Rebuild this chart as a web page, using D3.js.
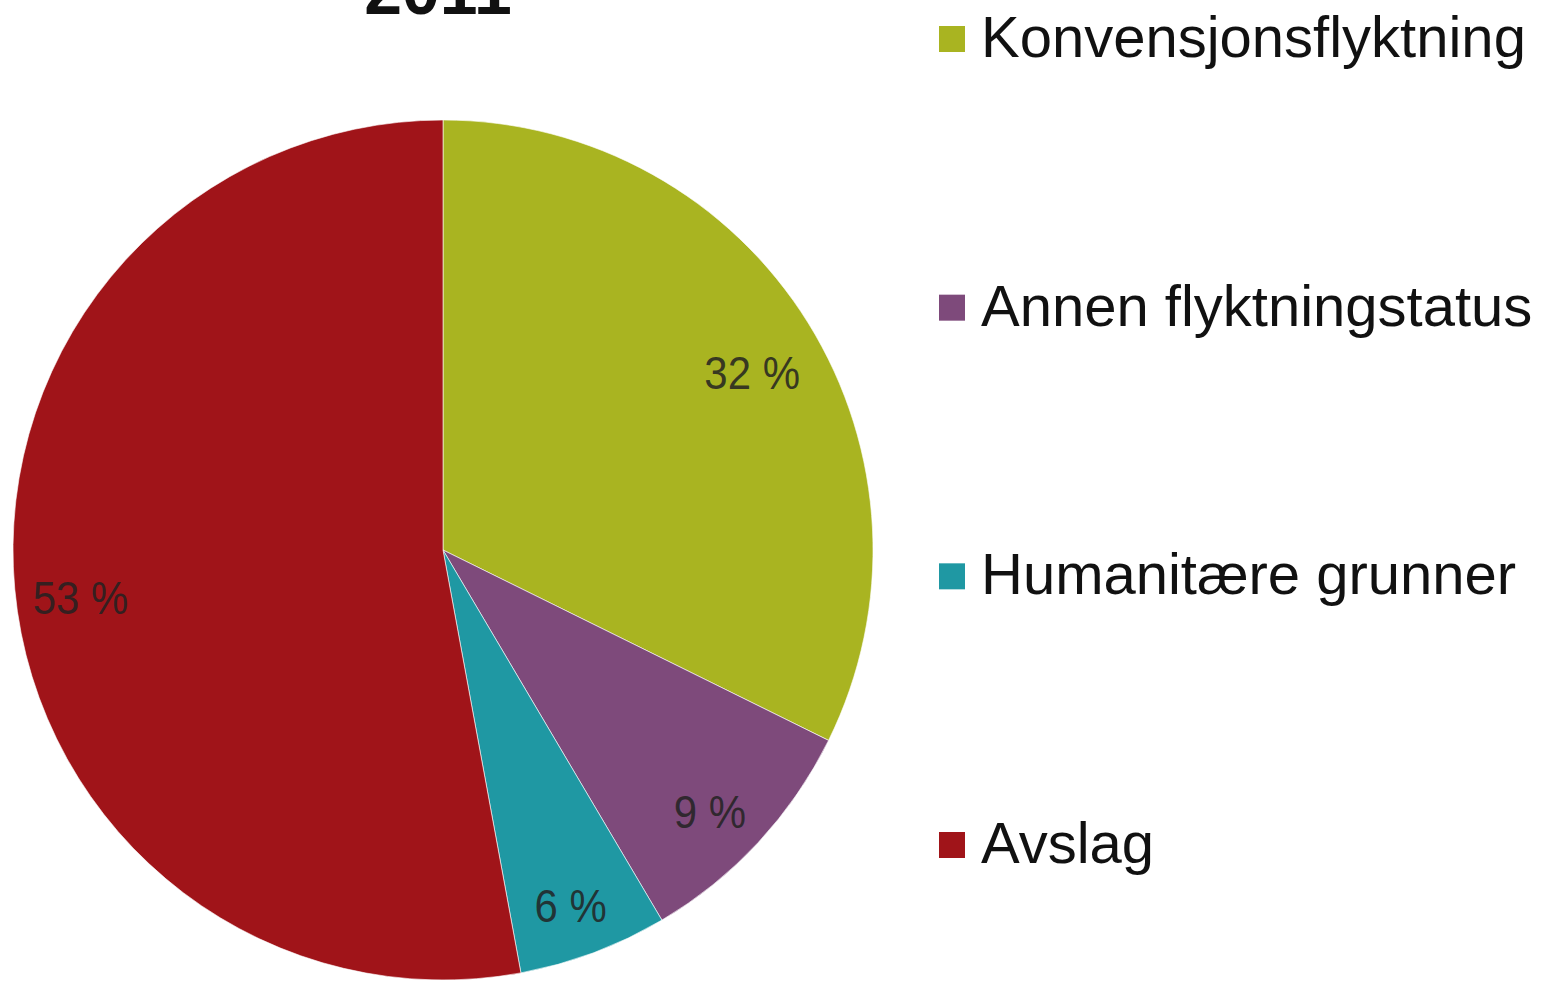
<!DOCTYPE html>
<html>
<head>
<meta charset="utf-8">
<script src="https://cdn.jsdelivr.net/npm/d3@7"></script>
<style>
  html, body { margin: 0; padding: 0; background: #ffffff; }
  svg { display: block; }
</style>
</head>
<body>
<svg id="chart" width="1546" height="981"></svg>
<script>
const title = "2011";
const categories = ["Konvensjonsflyktning", "Annen flyktningstatus", "Humanitære grunner", "Avslag"];
const values = [32.3, 9.2, 5.6, 52.9];
const labels = ["32 %", "9 %", "6 %", "53 %"];
const colors = ["#A9B421", "#7E4A7B", "#1F98A3", "#A01419"];

const svg = d3.select("#chart");
const W = 1546, H = 981;
const cx = 443, cy = 550, R = 430;

svg.append("rect").attr("width", W).attr("height", H).attr("fill", "#ffffff");

svg.append("text")
  .attr("x", 438).attr("y", 14)
  .attr("text-anchor", "middle")
  .attr("font-family", "Liberation Sans, Arial, sans-serif")
  .attr("font-weight", "bold")
  .attr("font-size", 68)
  .attr("fill", "#111")
  .text(title);

const pie = d3.pie().sort(null).value(d => d)(values);
const arc = d3.arc().innerRadius(0).outerRadius(R);
const labelArc = d3.arc().innerRadius(364).outerRadius(364);
const color = d3.scaleOrdinal().domain(categories).range(colors);

const g = svg.append("g").attr("transform", `translate(${cx},${cy})`);
g.selectAll("path.slice").data(pie).enter().append("path")
  .attr("class", "slice")
  .attr("d", arc)
  .attr("fill", (d, i) => color(categories[i]))
  .attr("stroke", "#ffffff").attr("stroke-width", 1).attr("stroke-opacity", 0.6);

g.selectAll("text.lbl").data(pie).enter().append("text")
  .attr("class", "lbl")
  .attr("transform", d => { const c = labelArc.centroid(d); return `translate(${c[0]},${c[1] + 14}) scale(1,1.12)`; })
  .attr("text-anchor", "middle")
  .attr("dy", "0.36em")
  .attr("font-family", "Liberation Sans, Arial, sans-serif")
  .attr("font-size", 42)
  .attr("fill", "#222")
  .attr("fill-opacity", 0.85)
  .text((d, i) => labels[i]);

const legendY = d3.scalePoint().domain(categories).range([57, 863]);
const lg = svg.append("g");
const items = lg.selectAll("g.item").data(categories).enter().append("g")
  .attr("class", "item")
  .attr("transform", d => `translate(0,${legendY(d)})`);
items.append("rect")
  .attr("x", 939).attr("y", -31).attr("width", 26).attr("height", 26)
  .attr("fill", d => color(d));
items.append("text")
  .attr("x", 981).attr("y", 0)
  .attr("font-family", "Liberation Sans, Arial, sans-serif")
  .attr("font-size", 58)
  .attr("fill", "#111")
  .text(d => d);
</script>
</body>
</html>
